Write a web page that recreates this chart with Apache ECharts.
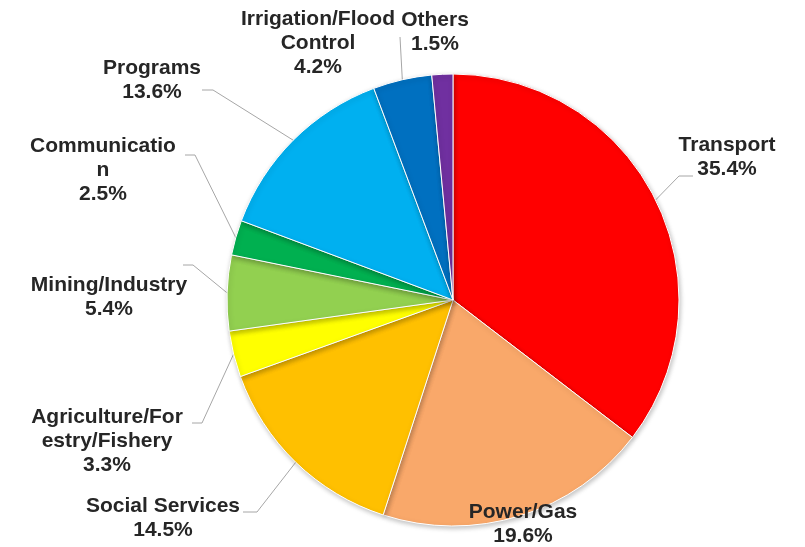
<!DOCTYPE html>
<html>
<head>
<meta charset="utf-8">
<title>Sector share</title>
<script src="https://cdn.jsdelivr.net/npm/echarts@6/dist/echarts.min.js"></script>
<style>
  html, body { margin: 0; padding: 0; background: #fff; }
  #chart { width: 805px; height: 547px; }
</style>
</head>
<body>
<div id="chart"></div>
<script>
// sector names (wrapped the way the labels show them) and shares in %
var categories = ['Transport', 'Power/Gas', 'Social Services', 'Agriculture/For\nestry/Fishery',
                  'Mining/Industry', 'Communicatio\nn', 'Programs', 'Irrigation/Flood\nControl', 'Others'];
var shares = [35.4, 19.6, 14.5, 3.3, 5.4, 2.5, 13.6, 4.2, 1.5];
var colors = ['#ff0000', '#f9a86a', '#ffc000', '#ffff00', '#92d050', '#00b050', '#00b0f0', '#0070c0', '#7030a0'];

// where each label sits, plus the bend / end of its leader line (null = no leader)
var labelSpots = [
    {x: 727, y: 157, bend: [679, 176], end: [693, 176]},
    {x: 523, y: 524, bend: null},
    {x: 163, y: 518, bend: [257, 512], end: [243, 512]},
    {x: 107, y: 441, bend: [202, 423], end: [192, 423]},
    {x: 109, y: 297, bend: [193, 265], end: [183, 265]},
    {x: 103, y: 170, bend: [195, 155], end: [185, 155]},
    {x: 152, y: 80,  bend: [213, 90],  end: [202, 90]},
    {x: 318, y: 43,  bend: [400, 37],  end: [400, 37]},
    {x: 435, y: 32,  bend: null}
];

var chart = echarts.init(document.getElementById('chart'));

var pieData = categories.map(function (name, i) {
    var item = {
        name: name,
        value: shares[i],
        itemStyle: { color: colors[i] }
    };
    if (!labelSpots[i].bend) {
        item.labelLine = { show: false };
    }
    return item;
});

chart.setOption({
    animation: false,
    series: [
        {
            type: 'pie',
            center: [453, 300],
            radius: 226,
            startAngle: 90,
            clockwise: true,
            avoidLabelOverlap: false,
            data: pieData,
            itemStyle: {
                borderColor: '#ffffff',
                borderWidth: 1,
                shadowBlur: 5,
                shadowOffsetX: 1,
                shadowOffsetY: 2,
                shadowColor: 'rgba(0,0,0,0.25)'
            },
            label: {
                show: true,
                position: 'outside',
                formatter: function (p) {
                    return p.name + '\n' + shares[p.dataIndex].toFixed(1) + '%';
                },
                fontFamily: 'Liberation Sans, Arial, sans-serif',
                fontWeight: 'bold',
                fontSize: 21,
                lineHeight: 24,
                color: '#262626',
                align: 'center',
                overflow: 'none'
            },
            labelLine: {
                show: true,
                lineStyle: { color: '#a6a6a6', width: 1 }
            },
            emphasis: { disabled: true }
        }
    ]
});

chart.setOption({
    series: [{
        labelLayout: function (params) {
            var spot = labelSpots[params.dataIndex];
            var out = { x: spot.x, y: spot.y, align: 'center', verticalAlign: 'middle' };
            if (spot.bend && params.labelLinePoints) {
                var edge = params.labelLinePoints[0];
                out.labelLinePoints = [edge, spot.bend, spot.end];
            }
            return out;
        }
    }]
});
</script>
</body>
</html>
